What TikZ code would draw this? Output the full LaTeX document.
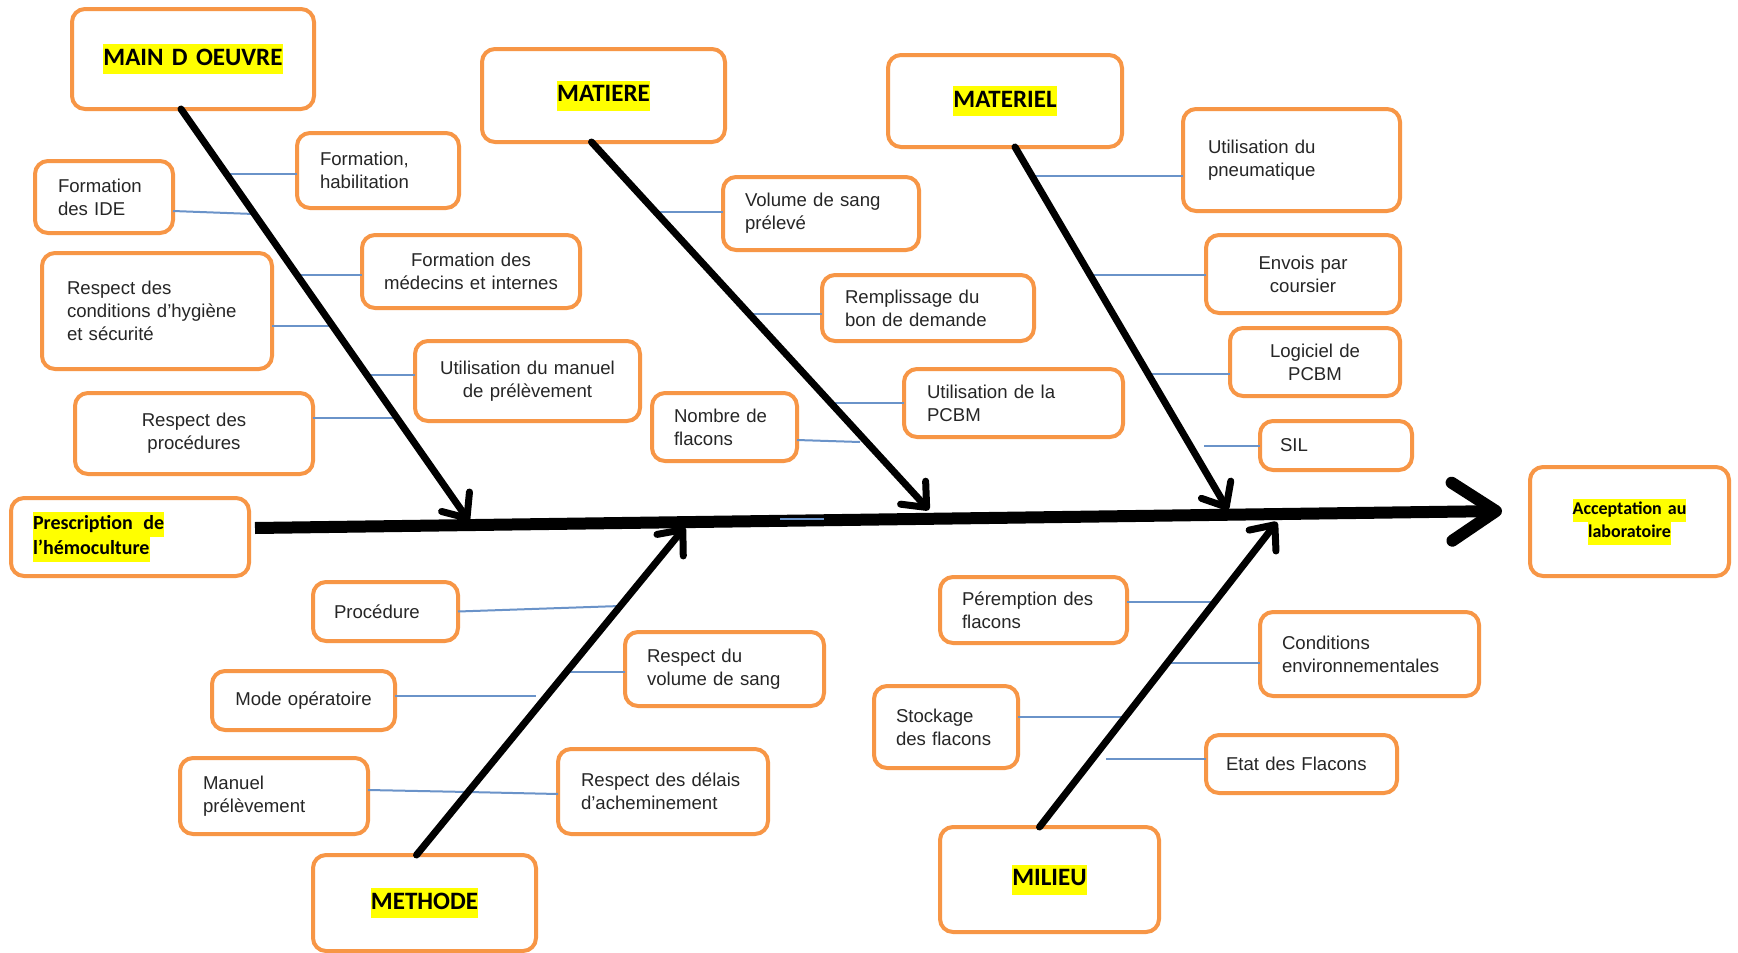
\documentclass[tikz,border=0pt]{standalone}
\usepackage{fontspec}
\setmainfont{Liberation Sans}
\newfontfamily\calib{Carlito}
\usetikzlibrary{arrows.meta}
\definecolor{boxorange}{HTML}{F79646}
\definecolor{twigblue}{HTML}{6A93C9}
\definecolor{hlyellow}{HTML}{FFFF00}
\definecolor{txtgray}{HTML}{262626}
\newcommand\hlt[1]{{\setlength\fboxsep{0pt}\colorbox{hlyellow}{\strut #1}}}
\newcommand\mkbox[8]{%
 \pgfmathsetmacro\bxw{#4-#2}%
 \pgfmathsetmacro\bxh{#5-#3}%
 \pgfmathsetmacro\bxt{#4-#2-2*#6}%
 \pgfmathsetmacro\bxcx{(#2+#4)/2}%
 \pgfmathsetmacro\bxcy{(#3+#5)/2}%
 \node[box,minimum width=\bxw pt,minimum height=\bxh pt,text width=\bxt pt,inner xsep=#6pt,#7] (#1) at (\bxcx,\bxcy) {#8};}
\begin{document}
\begin{tikzpicture}[x=1pt,y=-1pt,
 box/.style={draw=boxorange,line width=4pt,rounded corners=13pt,fill=white,inner ysep=0pt,outer sep=0pt,text=txtgray,font=\fontsize{18.6}{23}\selectfont},
 cat/.style={text=black,font=\calib\bfseries\fontsize{25}{30}\selectfont},
 catsm/.style={text=black,font=\calib\bfseries\fontsize{20}{25}\selectfont},
 catxs/.style={text=black,font=\calib\bfseries\fontsize{18}{23}\selectfont},
 twig/.style={draw=twigblue,line width=2pt},
 bone/.style={line width=7pt,line cap=round,-{Straight Barb[length=20pt,width=34pt,round]}},
 spine/.style={line width=12pt,-{Straight Barb[length=44pt,width=58pt,round]}}]
\fill[white] (0,0) rectangle (1738,953);
\useasboundingbox (0,0) rectangle (1738,953);
% category boxes
\mkbox{main}{72}{9}{314}{109}{5}{align=center,cat}{\hlt{MAIN D OEUVRE}}
\mkbox{matiere}{482}{49}{725}{142}{5}{align=center,cat}{\hlt{MATIERE}}
\mkbox{materiel}{888}{55}{1122}{147}{5}{align=center,cat}{\hlt{MATERIEL}}
\mkbox{methode}{313}{855}{536}{951}{5}{align=center,cat}{\hlt{METHODE}}
\mkbox{milieu}{940}{827}{1159}{932}{5}{align=center,cat}{\hlt{MILIEU}}
\mkbox{acc}{1530}{467}{1729}{576}{5}{align=center,catxs}{\hlt{Acceptation au}\\\hlt{laboratoire}}
\mkbox{pres}{11}{498}{249}{576}{22}{align=left,catsm}{\hlt{Prescription\hspace{4pt} de}\\\hlt{l’hémoculture}}
% main d'oeuvre items
\mkbox{fh}{297}{133}{459}{208}{23}{align=left}{Formation,\\habilitation}
\mkbox{ide}{35}{161}{173}{233}{23}{align=left}{Formation\\des IDE}
\mkbox{med}{362}{235}{580}{308}{6}{align=center}{Formation des\\médecins et internes}
\mkbox{cond}{42}{253}{272}{369}{25}{align=left}{Respect des\\conditions d’hygiène\\et sécurité}
\mkbox{man}{415}{341}{640}{421}{6}{align=center}{Utilisation du manuel\\de prélèvement}
\mkbox{proc}{75}{393}{313}{474}{6}{align=center}{Respect des\\procédures}
% matiere items
\mkbox{vol}{723}{177}{919}{250}{22}{align=left}{Volume de sang\\prélevé}
\mkbox{rem}{822}{275}{1034}{341}{23}{align=left}{Remplissage du\\bon de demande}
\mkbox{nbr}{652}{393}{797}{461}{22}{align=left}{\mbox{Nombre de}\\flacons}
\mkbox{pcbm}{904}{369}{1123}{437}{23}{align=left}{Utilisation de la\\PCBM}
% materiel items
\mkbox{pneu}{1183}{109}{1400}{211}{25}{align=left}{Utilisation du\\pneumatique}
\mkbox{env}{1206}{235}{1400}{313}{6}{align=center}{Envois par\\coursier}
\mkbox{log}{1230}{328}{1400}{396}{6}{align=center}{Logiciel de\\PCBM}
\mkbox{sil}{1260}{421}{1412}{470}{20}{align=left}{SIL}
% methode items
\mkbox{pro}{313}{582}{458}{641}{21}{align=left}{Procédure}
\mkbox{rvol}{625}{632}{824}{706}{22}{align=left}{Respect du\\volume de sang}
\mkbox{mode}{212}{671}{395}{730}{6}{align=center}{Mode opératoire}
\mkbox{mpre}{180}{758}{368}{834}{23}{align=left}{Manuel\\prélèvement}
\mkbox{del}{558}{749}{768}{834}{23}{align=left}{\mbox{Respect des délais}\\d’acheminement}
% milieu items
\mkbox{per}{940}{577}{1127}{643}{22}{align=left}{\mbox{Péremption des}\\flacons}
\mkbox{con}{1260}{612}{1479}{696}{22}{align=left}{Conditions\\environnementales}
\mkbox{sto}{874}{686}{1018}{768}{22}{align=left}{Stockage\\\mbox{des flacons}}
\mkbox{eta}{1206}{735}{1397}{793}{20}{align=left}{Etat des Flacons}
% bone end points
\coordinate (mainT) at (469,521);
\coordinate (matT) at (929,510);
\coordinate (matlT) at (1228,510);
\coordinate (methT) at (685,527);
\coordinate (milT) at (1277,522);
% twig points on bones
\coordinate (fhB) at (226,174);
\coordinate (ideB) at (254,214);
\coordinate (medB) at (297,275);
\coordinate (condB) at (333,326);
\coordinate (manB) at (367,375);
\coordinate (procB) at (396,418);
\coordinate (volB) at (654,212);
\coordinate (remB) at (748,314);
\coordinate (pcbmB) at (830,403);
\coordinate (nbrB) at (860,442);
\coordinate (pneuB) at (1029,176);
\coordinate (envB) at (1088,275);
\coordinate (logB) at (1147,374);
\coordinate (silB) at (1204,446);
\coordinate (proB) at (620,606);
\coordinate (rvolB) at (566,672);
\coordinate (modeB) at (536,696);
\coordinate (mdB) at (468,792);
\coordinate (perB) at (1214,602);
\coordinate (conB) at (1167,663);
\coordinate (stoB) at (1125,717);
\coordinate (etaB) at (1106,759);
\coordinate (blA) at (780,519);
\coordinate (blB) at (824,519);
% twigs
\draw[twig] (fhB) -- (fhB -| fh.west);
\draw[twig] ([yshift=-14pt]ide.east) -- (ideB);
\draw[twig] (medB) -- (medB -| med.west);
\draw[twig] (condB) -- (condB -| cond.east);
\draw[twig] (manB) -- (manB -| man.west);
\draw[twig] (procB) -- (procB -| proc.east);
\draw[twig] (volB) -- (volB -| vol.west);
\draw[twig] (remB) -- (remB -| rem.west);
\draw[twig] (pcbmB) -- (pcbmB -| pcbm.west);
\draw[twig] ([yshift=-13pt]nbr.east) -- (nbrB);
\draw[twig] (pneuB) -- (pneuB -| pneu.west);
\draw[twig] (envB) -- (envB -| env.west);
\draw[twig] (logB) -- (logB -| log.west);
\draw[twig] (silB) -- (silB -| sil.west);
\draw[twig] (pro.east) -- (proB);
\draw[twig] (rvolB) -- (rvolB -| rvol.west);
\draw[twig] (modeB -| mode.east) -- (modeB);
\draw[twig] ([yshift=6pt]mpre.east) -- (mdB) -- ([yshift=-2.5pt]del.west);
\draw[twig] (perB) -- (perB -| per.east);
\draw[twig] (conB) -- (conB -| con.west);
\draw[twig] (stoB) -- (stoB -| sto.east);
\draw[twig] (etaB) -- (etaB -| eta.west);
% bones
\draw[bone] ([xshift=-12pt]main.south) -- (mainT);
\draw[bone] ([xshift=-12pt]matiere.south) -- (matT);
\draw[bone] ([xshift=10pt]materiel.south) -- (matlT);
\draw[bone] ([xshift=-8pt]methode.north) -- (methT);
\draw[bone] ([xshift=-10pt]milieu.north) -- (milT);
% spine
\draw[spine] ([xshift=6pt,yshift=9pt]pres.east) -- ([xshift=-28pt,yshift=10.5pt]acc.west);
\draw[twig] (blA) -- (blB);
\end{tikzpicture}
\end{document}
